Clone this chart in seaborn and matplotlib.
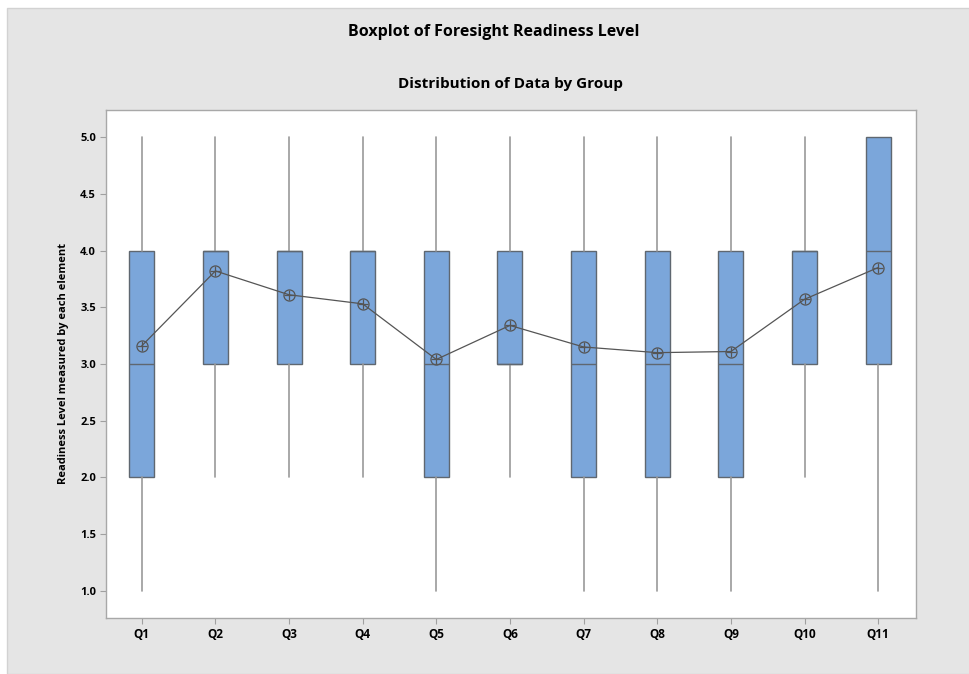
import numpy as np
import seaborn as sns
from matplotlib import pyplot as plt
from matplotlib.patches import Rectangle

sns.set_theme(style="white")
plt.rcParams["font.family"] = ["Open Sans", "DejaVu Sans"]
plt.rcParams["text.color"] = "black"
plt.rcParams["axes.labelcolor"] = "black"
plt.rcParams["xtick.labelcolor"] = "black"
plt.rcParams["ytick.labelcolor"] = "black"

groups = ["Q1", "Q2", "Q3", "Q4", "Q5", "Q6", "Q7", "Q8", "Q9", "Q10", "Q11"]
wlo = [1, 2, 2, 2, 1, 2, 1, 1, 1, 2, 1]
q1 = [2, 3, 3, 3, 2, 3, 2, 2, 2, 3, 3]
med = [3, 4, 4, 4, 3, 3, 3, 3, 3, 4, 4]
q3 = [4, 4, 4, 4, 4, 4, 4, 4, 4, 4, 5]
whi = [5, 5, 5, 5, 5, 5, 5, 5, 5, 5, 5]
means = [3.16, 3.82, 3.61, 3.53, 3.04, 3.34, 3.15, 3.10, 3.11, 3.57, 3.85]

stats = []
for i, g in enumerate(groups):
    stats.append({"label": g, "whislo": wlo[i], "q1": q1[i], "med": med[i],
                  "q3": q3[i], "whishi": whi[i], "fliers": []})

fig = plt.figure(figsize=(9.7, 6.74), dpi=100)
fig.patch.set_facecolor("white")
fig.patches.append(Rectangle((7 / 970, 0), 1, (674 - 8) / 674, transform=fig.transFigure,
                             facecolor="#e5e5e5", edgecolor="#d2d2d2", lw=1, zorder=-10))

ax = fig.add_axes([105.7 / 970, (674 - 618) / 674, 810 / 970, 508 / 674])
pos = np.arange(len(groups))
ax.bxp(stats, positions=pos, widths=0.34, patch_artist=True, showcaps=False,
       boxprops=dict(facecolor="#7ba6da", edgecolor="#5f6770", lw=1),
       whiskerprops=dict(color="#9a9a9a", lw=1.2),
       medianprops=dict(color="#5f6770", lw=1))

# mean symbols: open circle with a plus, joined by a line
sns.lineplot(x=pos, y=means, ax=ax, color="#555555", lw=0.9, marker="o", markersize=8,
             markerfacecolor="none", markeredgecolor="#555555", markeredgewidth=0.9, zorder=5)
sns.scatterplot(x=pos, y=means, ax=ax, marker="+", s=48, color="#555555", linewidth=0.9, zorder=6)

ax.set_xlim(-0.49, 10.51)
ax.set_ylim(0.762, 5.238)
ax.set_xticks(pos)
ax.set_xticklabels(groups, fontsize=8.5, fontweight="bold")
ax.set_yticks(np.arange(1.0, 5.01, 0.5))
ax.set_yticklabels([f"{v:.1f}" for v in np.arange(1.0, 5.01, 0.5)], fontsize=8, fontweight="bold")
ax.tick_params(axis="both", which="both", direction="out", length=4, width=0.8,
               color="#a0a0a0", bottom=True, left=True, pad=3)
for s in ax.spines.values():
    s.set_color("#a8a8a8")
    s.set_linewidth(1)
ax.set_ylabel("Readiness Level measured by each element", fontsize=8, fontweight="bold", labelpad=8)
ax.set_xlabel("")

fig.text(494 / 970, 1 - 32 / 674, "Boxplot of Foresight Readiness Level",
         ha="center", va="center", fontsize=11.5, fontweight="bold")
fig.text(510 / 970, 1 - 84 / 674, "Distribution of Data by Group",
         ha="center", va="center", fontsize=11, fontweight="bold")

plt.savefig("out.png", dpi=100)
